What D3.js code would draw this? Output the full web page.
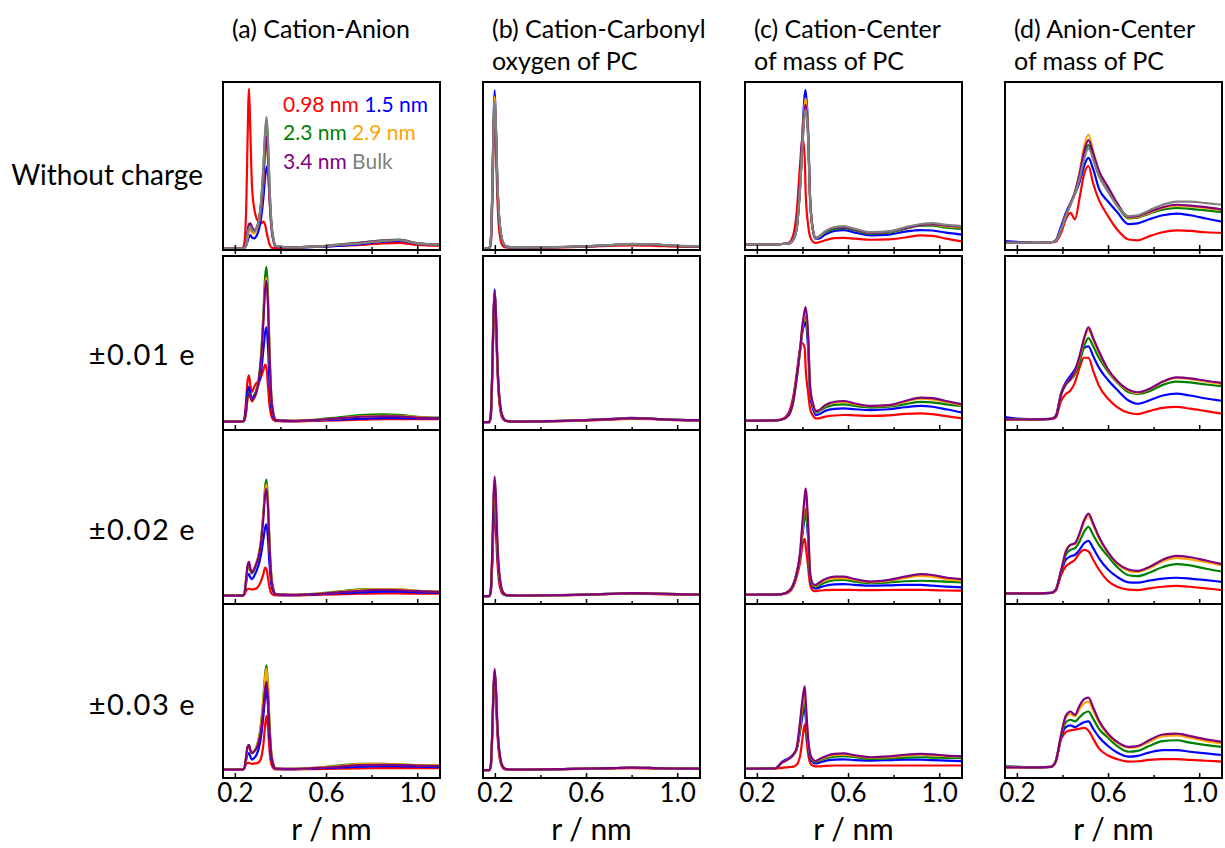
<!DOCTYPE html>
<html><head><meta charset="utf-8">
<script src="https://cdn.jsdelivr.net/npm/d3@7"></script>
<style>
body{margin:0;background:#fff}
svg{display:block}
text{font-family:Lato,"Open Sans",sans-serif;fill:#000}
</style>
</head><body>
<svg id="chart" width="1225" height="848"></svg>
<script>
// ---------- labels ----------
const seriesNames = ["0.98 nm","1.5 nm","2.3 nm","2.9 nm","3.4 nm","Bulk"];
const seriesColors = ["#ff0000","#0000ff","#008000","#ffa500","#800080","#808080"];
const columnTitles = [["(a) Cation-Anion"],["(b) Cation-Carbonyl","oxygen of PC"],["(c) Cation-Center","of mass of PC"],["(d) Anion-Center","of mass of PC"]];
const rowLabels = ["Without charge","\u00b10.01 e","\u00b10.02 e","\u00b10.03 e"];
const tickMajor = [0.2,0.6,1.0];
const tickMinor = [0.4,0.8];
const tickLabels = ["0.2","0.6","1.0"];
const xTitle = "r / nm";

// ---------- r grids (nm) ----------
const rA = [0.14,0.23,0.24,0.25,0.255,0.262,0.268,0.275,0.285,0.295,0.305,0.315,0.325,0.333,0.339,0.345,0.352,0.36,0.37,0.38,0.45,0.55,0.65,0.75,0.85,0.92,1.0,1.1];
const rB = [0.14,0.175,0.182,0.188,0.194,0.199,0.204,0.21,0.217,0.225,0.235,0.25,0.3,0.4,0.5,0.6,0.7,0.8,0.9,1.0,1.1];
const rC = [0.14,0.28,0.31,0.34,0.36,0.375,0.39,0.4,0.41,0.414,0.424,0.434,0.447,0.458,0.47,0.5,0.54,0.58,0.63,0.7,0.78,0.85,0.92,0.97,1.03,1.1];
const rD = [0.14,0.2,0.3,0.35,0.37,0.395,0.415,0.435,0.455,0.475,0.495,0.514,0.535,0.56,0.6,0.64,0.69,0.73,0.78,0.84,0.9,0.96,1.03,1.1];

// ---------- g(r) values, series order: 0.98, 1.5, 2.3, 2.9, 3.4 nm, Bulk ----------
// (a) Cation-Anion
const gA1 = [
 [0,0,0.2,2.5,6.0,9.6,7.0,3.8,2.4,1.8,1.6,1.5,1.6,1.4,1.0,0.6,0.25,0.05,0.02,0.02,0.05,0.1,0.15,0.2,0.3,0.33,0.2,0.15],
 [0,0,0.02,0.15,0.4,0.7,0.8,0.65,0.6,0.75,1.1,1.8,3.0,4.3,4.9,4.6,3.0,1.3,0.4,0.1,0.04,0.08,0.15,0.25,0.4,0.45,0.28,0.2],
 [0,0,0.02,0.25,0.75,1.15,1.3,1.1,1.0,1.2,1.7,2.8,4.8,6.9,7.7,6.5,3.7,1.6,0.5,0.15,0.05,0.1,0.22,0.35,0.48,0.52,0.32,0.22],
 [0,0,0.02,0.2,0.6,1.0,1.1,0.95,0.9,1.1,1.5,2.4,4.0,5.7,6.4,5.4,3.1,1.4,0.45,0.12,0.05,0.1,0.2,0.32,0.45,0.5,0.3,0.22],
 [0,0,0.02,0.4,1.0,1.45,1.5,1.3,1.1,1.2,1.6,2.5,4.2,6.0,6.7,5.6,3.2,1.4,0.45,0.12,0.05,0.1,0.2,0.33,0.47,0.5,0.3,0.22],
 [0,0,0.02,0.3,0.8,1.2,1.3,1.1,1.0,1.2,1.7,2.8,4.8,7.0,7.9,6.6,3.8,1.6,0.5,0.15,0.05,0.1,0.2,0.3,0.45,0.5,0.3,0.22]];
const gA2 = [
 [0,0,0.1,1.4,2.4,2.8,2.2,1.8,2.1,2.35,2.4,2.7,3.1,3.45,3.2,2.2,1.0,0.35,0.1,0.03,0.02,0.05,0.08,0.12,0.15,0.15,0.15,0.15],
 [0,0,0.08,1.0,1.8,2.1,1.7,1.4,1.6,1.9,2.3,3.0,4.3,5.4,5.7,4.6,2.4,0.9,0.25,0.06,0.03,0.08,0.12,0.18,0.22,0.22,0.2,0.2],
 [0,0,0.05,0.7,1.4,1.75,1.55,1.3,1.5,1.9,2.6,4.0,6.5,8.8,9.35,7.8,4.4,1.6,0.45,0.1,0.05,0.12,0.25,0.4,0.45,0.42,0.3,0.25],
 [0,0,0.05,0.6,1.3,1.6,1.45,1.2,1.4,1.8,2.5,3.8,6.1,8.2,8.7,7.3,4.1,1.5,0.4,0.1,0.05,0.1,0.2,0.32,0.35,0.35,0.28,0.22],
 [0,0,0.05,0.7,1.4,1.7,1.5,1.25,1.45,1.8,2.5,3.8,6.0,8.0,8.5,7.1,4.0,1.5,0.4,0.1,0.05,0.1,0.2,0.3,0.33,0.32,0.25,0.22]];
const gA3 = [
 [0,0,0.05,0.3,0.4,0.42,0.4,0.38,0.4,0.45,0.6,0.9,1.3,1.7,1.6,1.1,0.5,0.15,0.04,0.02,0.02,0.05,0.08,0.12,0.14,0.14,0.12,0.12],
 [0,0,0.05,0.8,1.2,1.3,1.1,1.0,1.2,1.5,1.9,2.5,3.4,4.1,4.3,3.5,1.9,0.7,0.2,0.05,0.03,0.08,0.15,0.2,0.25,0.25,0.2,0.18],
 [0,0,0.05,1.0,1.6,1.9,1.5,1.35,1.6,2.0,2.5,3.4,5.0,6.6,7.0,5.8,3.2,1.2,0.35,0.08,0.05,0.12,0.25,0.38,0.4,0.38,0.3,0.25],
 [0,0,0.05,1.0,1.7,2.0,1.6,1.4,1.65,2.0,2.5,3.3,4.9,6.3,6.7,5.6,3.1,1.2,0.35,0.08,0.05,0.12,0.22,0.35,0.4,0.38,0.3,0.25],
 [0,0,0.05,1.1,1.75,2.05,1.65,1.4,1.6,1.95,2.4,3.2,4.7,6.1,6.45,5.4,3.0,1.1,0.3,0.08,0.05,0.1,0.2,0.3,0.35,0.33,0.28,0.22]];
const gA4 = [
 [0,0,0.05,0.35,0.4,0.42,0.38,0.35,0.38,0.4,0.45,0.7,1.5,2.7,3.25,2.6,1.2,0.35,0.08,0.02,0.02,0.04,0.06,0.08,0.1,0.1,0.1,0.1],
 [0,0,0.05,0.6,0.9,1.0,0.8,0.6,0.7,0.9,1.3,2.0,3.2,4.4,4.8,3.9,2.0,0.7,0.2,0.05,0.03,0.08,0.12,0.18,0.22,0.2,0.18,0.15],
 [0,0,0.05,0.8,1.3,1.45,1.15,1.0,1.15,1.4,1.9,2.8,4.3,5.8,6.3,5.2,2.8,1.0,0.3,0.07,0.05,0.12,0.25,0.36,0.35,0.32,0.28,0.25],
 [0,0,0.05,0.8,1.3,1.45,1.15,1.0,1.15,1.4,1.9,2.7,4.2,5.6,6.1,5.0,2.7,1.0,0.3,0.07,0.05,0.12,0.22,0.34,0.35,0.32,0.28,0.25],
 [0,0,0.05,0.85,1.35,1.5,1.2,1.0,1.1,1.3,1.7,2.4,3.7,4.9,5.3,4.4,2.4,0.9,0.25,0.06,0.05,0.1,0.18,0.28,0.3,0.28,0.25,0.22]];

// (b) Cation-Carbonyl oxygen of PC
const gB1 = [
 [0,0,0.2,2.2,6.2,8.3,6.6,3.4,1.4,0.5,0.15,0.05,0.02,0.04,0.06,0.1,0.14,0.18,0.15,0.1,0.08],
 [0,0,0.4,3.0,7.5,9.5,7.8,4.5,2.2,1.0,0.35,0.1,0.03,0.05,0.08,0.12,0.18,0.25,0.22,0.15,0.12],
 [0,0,0.4,2.8,7.0,8.8,7.4,4.3,2.1,1.0,0.35,0.1,0.03,0.05,0.08,0.12,0.18,0.25,0.22,0.15,0.12],
 [0,0,0.4,2.9,7.2,9.1,7.6,4.4,2.2,1.0,0.35,0.1,0.03,0.05,0.08,0.12,0.18,0.25,0.22,0.15,0.12],
 [0,0,0.4,2.8,6.9,8.6,7.3,4.3,2.1,1.0,0.35,0.1,0.03,0.05,0.08,0.12,0.18,0.26,0.22,0.15,0.12],
 [0,0.02,0.5,3.0,7.1,8.8,7.6,4.6,2.3,1.1,0.4,0.12,0.04,0.06,0.09,0.13,0.2,0.27,0.24,0.16,0.13]];
const gB2 = [
 [0,0,0.3,2.3,6.0,7.6,6.4,3.6,1.6,0.6,0.2,0.06,0.02,0.04,0.07,0.1,0.15,0.2,0.18,0.12,0.1],
 [0,0,0.4,2.8,6.5,8.0,6.8,4.0,1.9,0.8,0.3,0.08,0.03,0.05,0.08,0.12,0.18,0.26,0.2,0.14,0.12],
 [0,0,0.4,2.7,6.3,7.8,6.7,4.0,1.9,0.8,0.3,0.08,0.03,0.05,0.08,0.12,0.18,0.24,0.2,0.14,0.12],
 [0,0,0.4,2.7,6.3,7.8,6.7,4.0,1.9,0.8,0.3,0.08,0.03,0.05,0.08,0.12,0.18,0.24,0.2,0.14,0.12],
 [0,0,0.4,2.7,6.3,7.85,6.8,4.1,2.0,0.85,0.3,0.08,0.03,0.05,0.08,0.12,0.18,0.24,0.2,0.14,0.12]];
const gB3 = [
 [0,0,0.2,1.6,4.0,5.0,4.2,2.3,1.0,0.4,0.12,0.04,0.02,0.04,0.06,0.08,0.12,0.15,0.13,0.1,0.08],
 [0,0,0.3,2.0,4.7,5.8,5.0,3.0,1.4,0.6,0.2,0.06,0.03,0.05,0.07,0.1,0.14,0.18,0.16,0.12,0.1],
 [0,0,0.3,2.1,4.9,6.0,5.2,3.1,1.5,0.65,0.22,0.06,0.03,0.05,0.07,0.1,0.14,0.18,0.16,0.12,0.1],
 [0,0,0.35,2.4,5.7,7.0,6.0,3.6,1.7,0.75,0.25,0.07,0.03,0.05,0.07,0.1,0.14,0.18,0.16,0.12,0.1],
 [0,0,0.35,2.5,5.9,7.2,6.2,3.7,1.8,0.8,0.26,0.07,0.03,0.05,0.07,0.1,0.14,0.18,0.16,0.12,0.1]];
const gB4 = [
 [0,0,0.2,1.8,4.5,5.5,4.6,2.5,1.1,0.45,0.14,0.04,0.02,0.04,0.06,0.08,0.1,0.12,0.1,0.08,0.07],
 [0,0,0.25,2.0,4.8,5.8,5.0,2.9,1.4,0.6,0.2,0.06,0.03,0.05,0.07,0.09,0.12,0.15,0.13,0.1,0.09],
 [0,0,0.25,2.0,4.8,5.9,5.1,3.0,1.4,0.6,0.2,0.06,0.03,0.05,0.07,0.09,0.12,0.15,0.13,0.1,0.09],
 [0,0,0.25,2.05,4.9,6.0,5.1,3.0,1.4,0.6,0.2,0.06,0.03,0.05,0.07,0.09,0.12,0.15,0.13,0.1,0.09],
 [0,0,0.25,2.1,5.0,6.1,5.2,3.1,1.5,0.65,0.22,0.06,0.03,0.05,0.07,0.09,0.12,0.15,0.13,0.1,0.09]];

// (c) Cation-Center of mass of PC
const gC1 = [
 [0,0,0.02,0.1,0.6,2.0,5.0,6.6,5.3,3.2,1.3,0.45,0.15,0.08,0.12,0.25,0.38,0.4,0.35,0.28,0.3,0.42,0.55,0.52,0.35,0.18],
 [0,0,0.02,0.05,0.35,1.1,4.0,6.9,9.2,9.5,7.4,2.7,0.8,0.35,0.35,0.6,0.82,0.88,0.72,0.55,0.6,0.78,0.88,0.85,0.72,0.6],
 [0,0,0.02,0.05,0.3,1.0,3.6,6.3,8.5,8.8,7.1,2.7,0.8,0.4,0.42,0.72,0.95,1.0,0.85,0.65,0.72,0.95,1.15,1.15,1.02,0.95],
 [0,0,0.02,0.05,0.3,1.0,3.7,6.4,8.6,9.0,7.2,2.7,0.8,0.4,0.45,0.8,1.05,1.1,0.92,0.7,0.78,1.0,1.2,1.22,1.1,1.05],
 [0,0,0.02,0.05,0.3,1.0,3.6,6.2,8.3,8.6,7.0,2.7,0.8,0.4,0.45,0.78,1.02,1.05,0.9,0.7,0.78,1.0,1.2,1.25,1.15,1.1],
 [0,0,0.02,0.05,0.3,1.0,3.5,6.0,8.0,8.3,6.8,2.6,0.8,0.4,0.45,0.8,1.05,1.1,0.95,0.75,0.8,1.05,1.25,1.3,1.2,1.13]];
const gC2 = [
 [0,0.03,0.1,0.5,1.5,2.9,4.4,4.7,4.4,3.2,1.8,0.7,0.3,0.15,0.15,0.25,0.32,0.35,0.33,0.3,0.33,0.42,0.45,0.4,0.28,0.15],
 [0,0.02,0.08,0.4,1.3,2.7,4.3,5.4,5.9,6.0,4.6,1.6,0.7,0.35,0.38,0.6,0.72,0.75,0.7,0.65,0.7,0.82,0.9,0.85,0.7,0.5],
 [0,0.02,0.08,0.35,1.2,2.6,4.3,5.6,6.3,6.5,5.1,1.9,0.9,0.52,0.55,0.8,0.97,1.0,0.9,0.8,0.85,1.0,1.15,1.12,1.0,0.9],
 [0,0.02,0.08,0.35,1.2,2.6,4.3,5.7,6.5,6.7,5.3,1.95,0.95,0.58,0.6,0.92,1.1,1.15,1.0,0.88,0.92,1.15,1.35,1.3,1.15,0.95],
 [0,0.02,0.08,0.35,1.2,2.6,4.4,5.8,6.7,6.9,5.5,2.0,1.0,0.6,0.62,0.95,1.15,1.2,1.05,0.9,0.95,1.2,1.4,1.38,1.2,1.0]];
const gC3 = [
 [0,0.01,0.03,0.15,0.5,1.1,2.0,3.0,3.4,3.0,1.8,0.6,0.25,0.22,0.25,0.28,0.3,0.3,0.29,0.28,0.29,0.3,0.3,0.28,0.26,0.25],
 [0,0.01,0.04,0.22,0.65,1.35,2.4,3.7,4.7,5.0,3.6,1.0,0.45,0.38,0.42,0.55,0.63,0.65,0.6,0.55,0.57,0.6,0.6,0.55,0.5,0.45],
 [0,0.01,0.04,0.2,0.6,1.3,2.4,3.8,4.9,5.2,3.8,1.1,0.55,0.5,0.55,0.75,0.88,0.9,0.8,0.7,0.75,0.82,0.85,0.83,0.8,0.75],
 [0,0.01,0.04,0.2,0.6,1.3,2.5,4.1,5.6,6.0,4.3,1.25,0.6,0.55,0.65,0.88,1.0,1.0,0.9,0.75,0.85,1.02,1.15,1.1,0.95,0.85],
 [0,0.01,0.04,0.2,0.6,1.3,2.6,4.4,6.0,6.45,4.6,1.3,0.65,0.6,0.7,0.95,1.1,1.1,0.95,0.8,0.9,1.1,1.25,1.2,1.05,0.95]];
const gC4 = [
 [0,0.01,0.06,0.1,0.13,0.25,0.8,1.8,2.7,2.3,1.0,0.35,0.18,0.15,0.15,0.18,0.2,0.2,0.2,0.2,0.2,0.2,0.2,0.2,0.2,0.2],
 [0,0.02,0.42,0.65,0.87,1.2,2.3,3.2,3.8,3.2,1.5,0.65,0.38,0.32,0.36,0.48,0.55,0.57,0.53,0.5,0.52,0.55,0.55,0.52,0.5,0.47],
 [0,0.02,0.37,0.6,0.85,1.2,2.5,3.5,4.1,3.5,1.7,0.8,0.48,0.42,0.48,0.62,0.74,0.77,0.7,0.6,0.63,0.68,0.7,0.68,0.66,0.65],
 [0,0.02,0.37,0.6,0.85,1.25,2.7,3.9,4.6,3.9,1.85,0.85,0.52,0.45,0.52,0.7,0.83,0.85,0.78,0.67,0.7,0.8,0.85,0.82,0.77,0.75],
 [0,0.02,0.37,0.6,0.85,1.3,2.9,4.2,5.0,4.2,2.0,0.9,0.55,0.47,0.55,0.75,0.9,0.93,0.82,0.7,0.75,0.85,0.9,0.87,0.8,0.77]];

// (d) Anion-Center of mass of PC
const gD1 = [
 [0.05,0.05,0.05,0.07,0.1,0.7,1.5,1.9,1.5,2.8,4.3,4.8,3.7,2.7,1.7,0.87,0.25,0.2,0.45,0.7,0.82,0.78,0.7,0.66],
 [0.15,0.1,0.05,0.08,0.2,1.1,1.9,2.5,3.1,3.8,4.8,5.3,4.6,3.4,2.6,1.95,1.2,1.25,1.5,1.75,1.85,1.75,1.55,1.35],
 [0.05,0.05,0.05,0.08,0.15,0.9,1.7,2.4,3.1,4.1,5.4,6.1,5.3,4.2,3.3,2.35,1.55,1.6,1.85,2.1,2.2,2.15,2.05,1.95],
 [0.05,0.05,0.05,0.08,0.15,0.9,1.75,2.45,3.2,4.4,6.0,6.75,5.7,4.5,3.45,2.45,1.6,1.65,1.9,2.2,2.35,2.3,2.2,2.05],
 [0.05,0.05,0.05,0.08,0.15,0.9,1.75,2.45,3.2,4.3,5.7,6.4,5.6,4.5,3.5,2.5,1.65,1.7,1.95,2.25,2.4,2.35,2.25,2.1],
 [0.05,0.05,0.05,0.08,0.15,0.9,1.7,2.4,3.1,4.0,5.2,5.9,5.2,4.2,3.2,2.35,1.7,1.75,2.05,2.4,2.6,2.6,2.5,2.4]];
const gD2 = [
 [0.05,0.05,0.05,0.07,0.15,1.2,1.6,1.8,2.3,3.2,3.8,3.8,3.0,2.1,1.3,0.8,0.45,0.37,0.55,0.75,0.81,0.7,0.55,0.4],
 [0.2,0.1,0.05,0.08,0.25,1.7,2.3,2.7,3.1,3.7,4.4,4.5,3.9,3.2,2.45,1.85,1.2,1.0,1.2,1.5,1.62,1.5,1.32,1.18],
 [0.05,0.05,0.05,0.08,0.2,1.6,2.15,2.45,2.8,3.5,4.5,5.0,4.5,3.8,2.95,2.3,1.7,1.6,1.75,2.15,2.35,2.3,2.17,2.07],
 [0.05,0.05,0.05,0.08,0.2,1.6,2.2,2.5,2.95,3.8,4.9,5.5,4.9,4.1,3.05,2.35,1.8,1.65,1.88,2.32,2.58,2.5,2.35,2.2],
 [0.05,0.05,0.05,0.08,0.2,1.6,2.2,2.5,3.0,3.9,5.0,5.65,5.0,4.2,3.1,2.4,1.85,1.7,1.9,2.35,2.6,2.55,2.4,2.27]];
const gD3 = [
 [0.05,0.05,0.05,0.07,0.2,1.2,1.7,1.9,2.1,2.5,2.7,2.6,2.1,1.5,0.8,0.45,0.28,0.25,0.35,0.45,0.5,0.45,0.35,0.25],
 [0.05,0.05,0.05,0.08,0.25,1.4,2.1,2.3,2.4,2.7,3.1,3.25,2.8,2.2,1.5,1.05,0.72,0.7,0.82,0.95,1.0,0.95,0.85,0.75],
 [0.05,0.05,0.05,0.08,0.25,1.45,2.4,2.7,2.8,3.2,3.8,4.1,3.6,3.0,2.3,1.65,1.15,1.1,1.3,1.65,1.83,1.75,1.55,1.38],
 [0.05,0.05,0.05,0.08,0.25,1.5,2.6,3.0,3.05,3.6,4.4,4.75,4.2,3.4,2.5,1.85,1.42,1.35,1.58,2.0,2.2,2.12,1.95,1.75],
 [0.05,0.05,0.05,0.08,0.25,1.5,2.6,3.0,3.1,3.7,4.5,4.9,4.3,3.5,2.55,1.9,1.5,1.42,1.65,2.1,2.33,2.25,2.05,1.83]];
const gD4 = [
 [0.05,0.05,0.05,0.07,0.35,1.8,2.2,2.3,2.35,2.4,2.45,2.3,1.8,1.2,0.77,0.55,0.4,0.42,0.5,0.55,0.55,0.5,0.45,0.4],
 [0.1,0.08,0.05,0.08,0.4,1.9,2.5,2.6,2.5,2.65,2.8,2.85,2.4,1.9,1.35,0.95,0.7,0.75,0.95,1.1,1.1,1.0,0.9,0.8],
 [0.1,0.08,0.05,0.08,0.4,2.0,2.8,2.95,2.85,3.1,3.35,3.45,3.0,2.4,1.85,1.35,1.0,1.05,1.35,1.65,1.7,1.55,1.4,1.3],
 [0.05,0.05,0.05,0.08,0.4,2.1,3.1,3.3,3.15,3.6,3.95,4.05,3.5,2.8,2.0,1.55,1.25,1.3,1.6,1.95,2.0,1.85,1.65,1.5],
 [0.05,0.05,0.05,0.08,0.4,2.1,3.2,3.45,3.25,3.8,4.2,4.3,3.7,2.9,2.1,1.6,1.3,1.35,1.7,2.05,2.1,1.95,1.75,1.6]];

// ---------- layout ----------
const grids = [rA, rB, rC, rD];
const panels = [[gA1,gA2,gA3,gA4],[gB1,gB2,gB3,gB4],[gC1,gC2,gC3,gC4],[gD1,gD2,gD3,gD4]];
const colX = [223, 483, 745, 1005];
const panelW = 217;
const rowY = [82, 256, 430, 604];
const rowH = [168, 174, 174, 174];
const yLo = [[-0.1,-0.1,-0.35,-0.4],[-0.5,-0.47,-0.56,-0.6],[-0.5,-0.47,-0.56,-0.6],[-0.5,-0.47,-0.56,-0.6]];
const yHi = 10;
const xDomain = [0.148, 1.1];

const svg = d3.select("#chart");
const defs = svg.append("defs");

panels.forEach((colPanels, ci) => {
  const grid = grids[ci];
  const x = d3.scaleLinear().domain(xDomain).range([colX[ci], colX[ci] + panelW]);
  colPanels.forEach((series, ri) => {
    const y = d3.scaleLinear().domain([yLo[ri][ci], yHi]).range([rowY[ri] + rowH[ri], rowY[ri]]);
    const clipId = `clip${ci}${ri}`;
    defs.append("clipPath").attr("id", clipId).append("rect")
      .attr("x", colX[ci]).attr("y", rowY[ri]).attr("width", panelW).attr("height", rowH[ri]);
    const g = svg.append("g").attr("clip-path", `url(#${clipId})`);
    const line = d3.line().x((d, i) => x(grid[i])).y(d => y(d)).curve(d3.curveMonotoneX);
    series.forEach((vals, si) => {
      g.append("path").attr("d", line(vals)).attr("fill", "none")
        .attr("stroke", seriesColors[si]).attr("stroke-width", 2.2)
        .attr("stroke-linejoin", "round");
    });
    const yb = rowY[ri] + rowH[ri];
    const axMaj = d3.axisBottom(x).tickValues(tickMajor).tickSize(-5).tickFormat("");
    const axMin = d3.axisBottom(x).tickValues(tickMinor).tickSize(-3).tickFormat("");
    [axMaj, axMin].forEach(ax => {
      const ga = svg.append("g").attr("transform", `translate(0,${yb})`).call(ax);
      ga.select(".domain").remove();
      ga.selectAll("line").attr("stroke", "#000").attr("stroke-width", 1.5);
    });
    if (ri === 0) {
      const axOut = d3.axisBottom(x).tickValues(tickMajor.concat(tickMinor)).tickSize(4).tickFormat("");
      const go = svg.append("g").attr("transform", `translate(0,${yb})`).call(axOut);
      go.select(".domain").remove();
      go.selectAll("line").attr("stroke", "#000").attr("stroke-width", 1.5);
    }
    if (ri === 3) {
      const axLab = d3.axisBottom(x).tickValues(tickMajor).tickSize(0)
        .tickFormat((d, i) => tickLabels[i]);
      const gl = svg.append("g").attr("transform", `translate(0,${yb})`).call(axLab);
      gl.select(".domain").remove();
      gl.selectAll("text").attr("y", 24).attr("dy", null)
        .style("font-family", "Lato").style("font-size", "26px").attr("fill", "#000");
      svg.append("text").attr("x", colX[ci] + panelW / 2).attr("y", 840)
        .attr("text-anchor", "middle").style("font-size", "30px").text(xTitle);
    }
    svg.append("rect").attr("x", colX[ci]).attr("y", rowY[ri]).attr("width", panelW).attr("height", rowH[ri])
      .attr("fill", "none").attr("stroke", "#000").attr("stroke-width", 2);
  });
  columnTitles[ci].forEach((t, li) => {
    svg.append("text").attr("x", colX[ci] + 9).attr("y", 38 + li * 32)
      .style("font-size", "25px").text(t);
  });
});

// row labels
const rowLabelRight = [203, 196, 196, 196];
const rowLabelBase = [185, 365, 540, 715];
rowLabels.forEach((t, i) => {
  const txt = svg.append("text").attr("x", rowLabelRight[i]).attr("y", rowLabelBase[i])
    .attr("text-anchor", "end").style("font-size", i === 0 ? "28px" : "29px");
  if (i > 0) txt.style("letter-spacing", "1.5px");
  txt.text(t);
});

// legend in panel (a), first row
const legX = 283, legY = [112, 140, 169];
[[0,1],[2,3],[4,5]].forEach((pair, li) => {
  const t = svg.append("text").attr("x", legX).attr("y", legY[li]).style("font-size", "21px");
  pair.forEach((si, k) => {
    t.append("tspan").attr("fill", seriesColors[si]).text((k ? " " : "") + seriesNames[si]);
  });
});
</script>
</body></html>
